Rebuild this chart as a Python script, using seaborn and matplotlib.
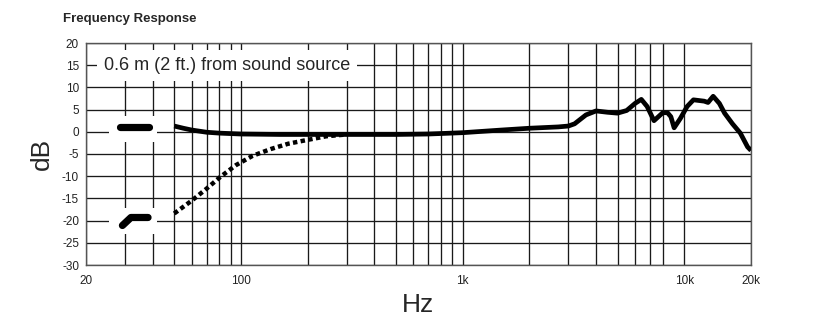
"""Microphone frequency response chart (0.6 m from source, with low-cut)."""

import matplotlib.pyplot as plt
import matplotlib.ticker as mticker
import numpy as np
import pandas as pd
import seaborn as sns

sns.set_theme(style="white")
plt.rcParams["font.family"] = ["Liberation Sans", "DejaVu Sans"]

# flat response (solid curve)
flat_hz = [50, 55, 60, 70, 80, 100, 150, 200, 300, 500, 700, 1000, 1500, 2000,
           2700, 3000, 3200, 3600, 4000, 4500, 5000, 5500, 6000, 6400, 6800,
           7300, 8000, 8400, 8700, 9000, 9600, 10300, 11000, 12300, 12800,
           13500, 14400, 15200, 16500, 17900, 19300, 20000]
flat_db = [1.3, 0.8, 0.4, -0.1, -0.3, -0.5, -0.6, -0.6, -0.6, -0.6, -0.5, -0.2,
           0.4, 0.8, 1.1, 1.3, 1.8, 3.8, 4.7, 4.4, 4.2, 4.8, 6.4, 7.3, 5.7,
           2.5, 4.3, 4.3, 3.4, 0.9, 3.0, 5.7, 7.2, 6.9, 6.6, 8.0, 6.4, 4.2,
           1.8, -0.3, -3.4, -4.2]

# low-cut response (dotted curve)
lowcut_hz = [50, 60, 70, 81, 95, 113, 136, 163, 196, 243, 300]
lowcut_db = [-18.4, -15.5, -12.8, -10.1, -7.5, -5.4, -3.9, -2.7, -1.9, -1.0, -0.6]

# legend glyphs drawn inside the plot
flat_key_hz = [28.6, 38.6]
flat_key_db = [1.1, 1.1]
lowcut_key_hz = [29.2, 31.9, 38.1]
lowcut_key_db = [-21.1, -19.3, -19.3]

grid_hz = [30, 40, 50, 60, 70, 80, 90, 100, 200, 300, 400, 500, 600, 700, 800,
           900, 1000, 2000, 3000, 4000, 5000, 6000, 7000, 8000, 10000]
tick_hz = [20, 100, 1000, 10000, 20000]
tick_labels = ["20", "100", "1k", "10k", "20k"]
db_ticks = [-30, -25, -20, -15, -10, -5, 0, 5, 10, 15, 20]

fig = plt.figure(figsize=(8.2, 3.29), dpi=100)
ax = fig.add_axes([86 / 820, 1 - 265 / 329, 665 / 820, 222 / 329])

flat = pd.DataFrame({"Hz": flat_hz, "dB": flat_db})
lowcut = pd.DataFrame({"Hz": lowcut_hz, "dB": lowcut_db})
sns.lineplot(data=flat, x="Hz", y="dB", ax=ax, color="black", lw=3.4,
             sort=False, estimator=None, zorder=5,
             solid_joinstyle="round", solid_capstyle="butt")
sns.lineplot(data=lowcut, x="Hz", y="dB", ax=ax, color="black", lw=3.2,
             sort=False, estimator=None, zorder=5,
             linestyle=(0, (1, 0.75)), dash_capstyle="butt")

# white knock-outs behind the legend glyphs
for lo, hi in [(-2.3, 3.6), (-23.0, -17.2)]:
    ax.fill_between([25.4, 41.9], lo, hi, color="white", lw=0, zorder=2)
ax.plot(flat_key_hz, flat_key_db, color="black", lw=5.2,
        solid_capstyle="round", zorder=5)
ax.plot(lowcut_key_hz, lowcut_key_db, color="black", lw=5.2,
        solid_capstyle="round", solid_joinstyle="round", zorder=5)

ax.text(0.027, 15, "0.6 m (2 ft.) from sound source", fontsize=13,
        va="center", ha="left", transform=ax.get_yaxis_transform(),
        bbox=dict(facecolor="white", edgecolor="none", boxstyle="square,pad=0.38"),
        zorder=3)

ax.set_xscale("log")
ax.set_xlim(20, 20000)
ax.set_ylim(-30, 20)
ax.xaxis.set_major_locator(mticker.FixedLocator(tick_hz))
ax.xaxis.set_major_formatter(mticker.FixedFormatter(tick_labels))
ax.xaxis.set_minor_locator(mticker.FixedLocator(grid_hz))
ax.xaxis.set_minor_formatter(mticker.NullFormatter())
ax.set_yticks(db_ticks)
ax.set_yticklabels([str(v) for v in db_ticks])

ax.set_axisbelow(True)
ax.grid(True, which="both", color="#1a1a1a", lw=0.95)
for s in ax.spines.values():
    s.set_color("#555555")
    s.set_linewidth(1.0)
ax.tick_params(axis="both", which="major", direction="out", length=3,
               width=0.8, color="#555555", labelsize=8.5, labelcolor="#222222")
ax.tick_params(axis="x", which="major", pad=4)
ax.tick_params(axis="y", which="major", pad=2)
ax.tick_params(axis="x", which="minor", length=0)

ax.set_xlabel("Hz", fontsize=19, va="center")
ax.xaxis.set_label_coords(0.5, -40 / 222)
ax.set_ylabel("dB", fontsize=19, va="center")
ax.yaxis.set_label_coords(-44 / 665, 0.5)

fig.text(63 / 820, 1 - 19 / 329, "Frequency Response", fontsize=9.5,
         fontweight="bold", ha="left", va="center")

fig.savefig("out.png", dpi=100, facecolor="white")
